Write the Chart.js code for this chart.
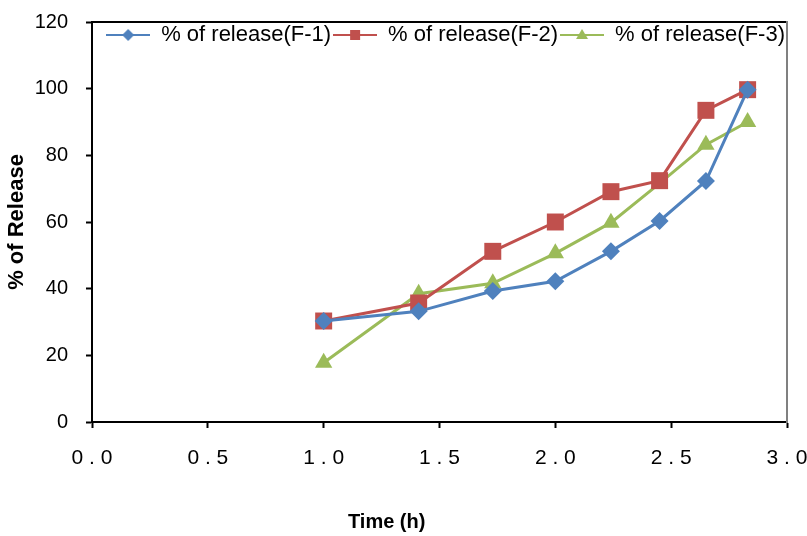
<!doctype html>
<html lang="en">
<head>
<meta charset="utf-8">
<title>% of Release</title>
<style>
  * { margin: 0; padding: 0; }
  body { background: #fff; width: 807px; height: 536px; overflow: hidden; }
  canvas { display: block; }
</style>
</head>
<body>
<canvas id="myChart" width="807" height="536"></canvas>
<script src="https://cdn.jsdelivr.net/npm/chart.js"></script>
<script>
// values
const timeX = [1.0, 1.41, 1.73, 2.0, 2.24, 2.45, 2.65, 2.83];
const releaseF1 = [30.3, 33.2, 39.3, 42.2, 51.2, 60.3, 72.3, 99.7];
const releaseF2 = [30.3, 35.7, 51.2, 60.0, 69.1, 72.4, 93.5, 99.7];
const releaseF3 = [17.8, 38.5, 41.6, 50.6, 59.8, 71.6, 83.2, 90.0];
const seriesNames = ['% of release(F-1)', '% of release(F-2)', '% of release(F-3)'];
const xTickLabels = ['0.0', '0.5', '1.0', '1.5', '2.0', '2.5', '3.0'];
const yTickLabels = ['0', '20', '40', '60', '80', '100', '120'];

const FONT = '"Liberation Sans", Arial, sans-serif';
const BLUE = '#4F81BD', RED = '#C0504D', GREEN = '#9BBB59';

// small line+marker picture for the legend entries
function legendSample(color, shape) {
  const c = document.createElement('canvas');
  c.width = 44; c.height = 16;
  const g = c.getContext('2d');
  g.strokeStyle = color; g.lineWidth = 2;
  g.beginPath(); g.moveTo(0, 8); g.lineTo(44, 8); g.stroke();
  g.fillStyle = color;
  g.beginPath();
  if (shape === 'rectRot') { g.moveTo(22, 2); g.lineTo(28, 8); g.lineTo(22, 14); g.lineTo(16, 8); }
  else if (shape === 'rect') { g.rect(17, 3, 10, 10); }
  else { g.moveTo(22, 2); g.lineTo(28, 12); g.lineTo(16, 12); }
  g.closePath(); g.fill();
  return c;
}

function series(label, values, color, shape, radius) {
  return {
    label,
    data: values.map((v, i) => ({ x: timeX[i], y: v })),
    borderColor: color,
    backgroundColor: color,
    borderWidth: 3,
    pointStyle: shape,
    pointRadius: radius,
    pointHoverRadius: radius,
    pointBackgroundColor: color,
    pointBorderColor: color,
    pointBorderWidth: 0,
    tension: 0,
    legendImg: legendSample(color, shape)
  };
}

// legend sits inside the plot box: no layout height, but keep a box to draw in
const flatLegend = {
  id: 'flatLegend',
  beforeLayout(chart) {
    const lg = chart.legend;
    if (lg && !lg._flat) {
      const fit = lg.fit;
      lg.fit = function () { fit.call(this); this._realH = this.height; this.height = 0; };
      lg._flat = true;
    }
  },
  afterLayout(chart) {
    const lg = chart.legend;
    if (lg && lg._realH) {
      lg.height = lg._realH;
      lg.bottom = lg.top + lg._realH;
    }
  }
};

// x axis title sits left of centre in the original
const xTitle = {
  id: 'xTitle',
  afterDraw(chart) {
    const { ctx, chartArea: a } = chart;
    ctx.save();
    ctx.font = 'bold 20px ' + FONT;
    ctx.fillStyle = '#000';
    ctx.textAlign = 'center';
    ctx.textBaseline = 'middle';
    ctx.fillText('Time (h)', a.left + (a.right - a.left) * 0.424, 522);
    ctx.restore();
  }
};

const data = {
  datasets: [
    series(seriesNames[0], releaseF1, BLUE, 'rectRot', 9),
    series(seriesNames[1], releaseF2, RED, 'rect', 12),
    series(seriesNames[2], releaseF3, GREEN, 'triangle', 10)
  ]
};

const tickGrid = {
  display: true, drawOnChartArea: false, drawTicks: true,
  tickLength: 6, tickWidth: 2, tickColor: '#000'
};

function noPad(s) {
  s.paddingLeft = 0; s.paddingRight = 0; s.paddingTop = 0; s.paddingBottom = 0;
}

const scales = {
  x: {
    type: 'linear', position: 'bottom', min: 0, max: 3,
    afterFit(s) { s.height = 114; noPad(s); },
    ticks: {
      stepSize: 0.5, padding: 18, color: '#000', maxRotation: 0,
      font: { family: FONT, size: 21 },
      callback: (v) => {
        const lab = xTickLabels[Math.round(v / 0.5)];
        return lab ? lab.split('').join(' ') : '';
      }
    },
    grid: tickGrid,
    border: { display: true, color: '#000', width: 2 }
  },
  xTop: {
    type: 'linear', position: 'top', min: 0, max: 1,
    afterFit(s) { s.height = 0; noPad(s); },
    ticks: { display: false },
    grid: { display: false },
    border: { display: true, color: '#000', width: 2 }
  },
  y: {
    type: 'linear', position: 'left', min: 0, max: 120,
    afterFit(s) { s.width = 92; noPad(s); },
    ticks: {
      stepSize: 20, padding: 18, color: '#000',
      font: { family: FONT, size: 20 },
      callback: (v) => yTickLabels[Math.round(v / 20)]
    },
    grid: tickGrid,
    border: { display: true, color: '#000', width: 2 },
    title: {
      display: true, text: '% of Release', color: '#000',
      font: { family: FONT, size: 22, weight: 'bold' },
      padding: { top: 4, bottom: 0 }
    }
  },
  yRight: {
    type: 'linear', position: 'right', min: 0, max: 1,
    afterFit(s) { s.width = 0; noPad(s); },
    ticks: { display: false },
    grid: { display: false },
    border: { display: true, color: '#808080', width: 2 }
  }
};

const config = {
  type: 'line',
  data,
  options: {
    responsive: false,
    animation: false,
    layout: { padding: { top: 22, right: 20, bottom: 0, left: 0 } },
    scales,
    plugins: {
      legend: {
        display: true,
        position: 'top',
        align: 'end',
        labels: {
          usePointStyle: true,
          pointStyleWidth: 44,
          padding: 2,
          color: '#000',
          font: { family: FONT, size: 22 },
          generateLabels(chart) {
            return chart.data.datasets.map((ds, i) => ({
              text: ds.label,
              fillStyle: ds.borderColor,
              strokeStyle: ds.borderColor,
              fontColor: '#000',
              lineWidth: 0,
              pointStyle: ds.legendImg,
              hidden: false,
              datasetIndex: i
            }));
          }
        }
      },
      tooltip: { enabled: false }
    }
  },
  plugins: [flatLegend, xTitle]
};

const myChart = new Chart(document.getElementById('myChart'), config);
</script>
</body>
</html>
